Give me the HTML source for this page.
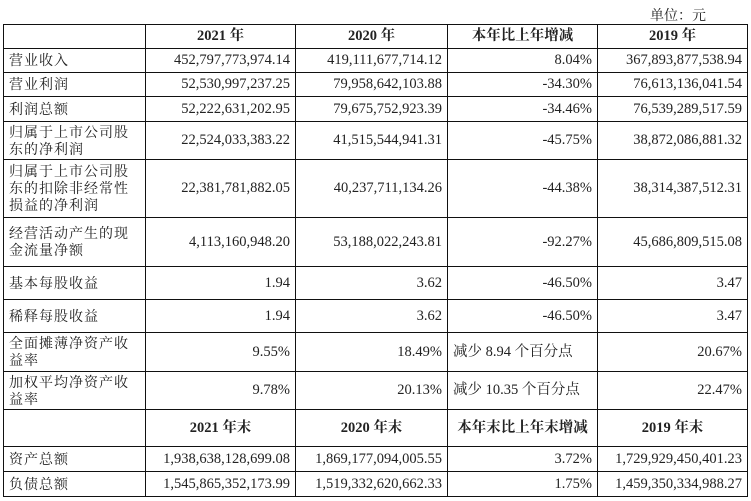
<!DOCTYPE html><html><head><meta charset="utf-8"><style>
body{margin:0;background:#fff;width:751px;height:501px;overflow:hidden;font-family:"Liberation Serif","Noto Serif CJK SC",serif;color:#222}
.u{position:absolute;left:650px;top:5px;font-size:14px}
table{position:absolute;left:3px;top:24px;border-collapse:collapse;table-layout:fixed;font-size:14.5px}
td{border:1.5px solid #111;padding:0 5px;text-align:right;line-height:17px;white-space:nowrap}
td:first-child{text-align:left;white-space:normal;font-family:"Noto Serif CJK SC","Liberation Serif",serif;font-size:14px;letter-spacing:1px}
.h td{font-weight:bold;text-align:center}
.c{text-align:left!important;font-family:"Liberation Serif","Noto Serif CJK SC",serif}
</style></head><body>
<div class="u">单位：元</div>
<table>
<colgroup><col style="width:142px"><col style="width:150px"><col style="width:152px"><col style="width:150px"><col style="width:150px"></colgroup>
<tr class="h" style="height:24px"><td></td><td>2021 年</td><td>2020 年</td><td>本年比上年增减</td><td>2019 年</td></tr>
<tr style="height:24px"><td>营业收入</td><td>452,797,773,974.14</td><td>419,111,677,714.12</td><td>8.04%</td><td>367,893,877,538.94</td></tr>
<tr style="height:24px"><td>营业利润</td><td>52,530,997,237.25</td><td>79,958,642,103.88</td><td>-34.30%</td><td>76,613,136,041.54</td></tr>
<tr style="height:25px"><td>利润总额</td><td>52,222,631,202.95</td><td>79,675,752,923.39</td><td>-34.46%</td><td>76,539,289,517.59</td></tr>
<tr style="height:38px"><td>归属于上市公司股东的净利润</td><td>22,524,033,383.22</td><td>41,515,544,941.31</td><td>-45.75%</td><td>38,872,086,881.32</td></tr>
<tr style="height:58px"><td>归属于上市公司股东的扣除非经常性损益的净利润</td><td>22,381,781,882.05</td><td>40,237,711,134.26</td><td>-44.38%</td><td>38,314,387,512.31</td></tr>
<tr style="height:49px"><td>经营活动产生的现金流量净额</td><td>4,113,160,948.20</td><td>53,188,022,243.81</td><td>-92.27%</td><td>45,686,809,515.08</td></tr>
<tr style="height:33px"><td>基本每股收益</td><td>1.94</td><td>3.62</td><td>-46.50%</td><td>3.47</td></tr>
<tr style="height:33px"><td>稀释每股收益</td><td>1.94</td><td>3.62</td><td>-46.50%</td><td>3.47</td></tr>
<tr style="height:39px"><td>全面摊薄净资产收益率</td><td>9.55%</td><td>18.49%</td><td class="c">减少 8.94 个百分点</td><td>20.67%</td></tr>
<tr style="height:38px"><td>加权平均净资产收益率</td><td>9.78%</td><td>20.13%</td><td class="c">减少 10.35 个百分点</td><td>22.47%</td></tr>
<tr class="h" style="height:37px"><td></td><td>2021 年末</td><td>2020 年末</td><td>本年末比上年末增减</td><td>2019 年末</td></tr>
<tr style="height:25px"><td>资产总额</td><td>1,938,638,128,699.08</td><td>1,869,177,094,005.55</td><td>3.72%</td><td>1,729,929,450,401.23</td></tr>
<tr style="height:25px"><td>负债总额</td><td>1,545,865,352,173.99</td><td>1,519,332,620,662.33</td><td>1.75%</td><td>1,459,350,334,988.27</td></tr>
</table>
</body></html>
